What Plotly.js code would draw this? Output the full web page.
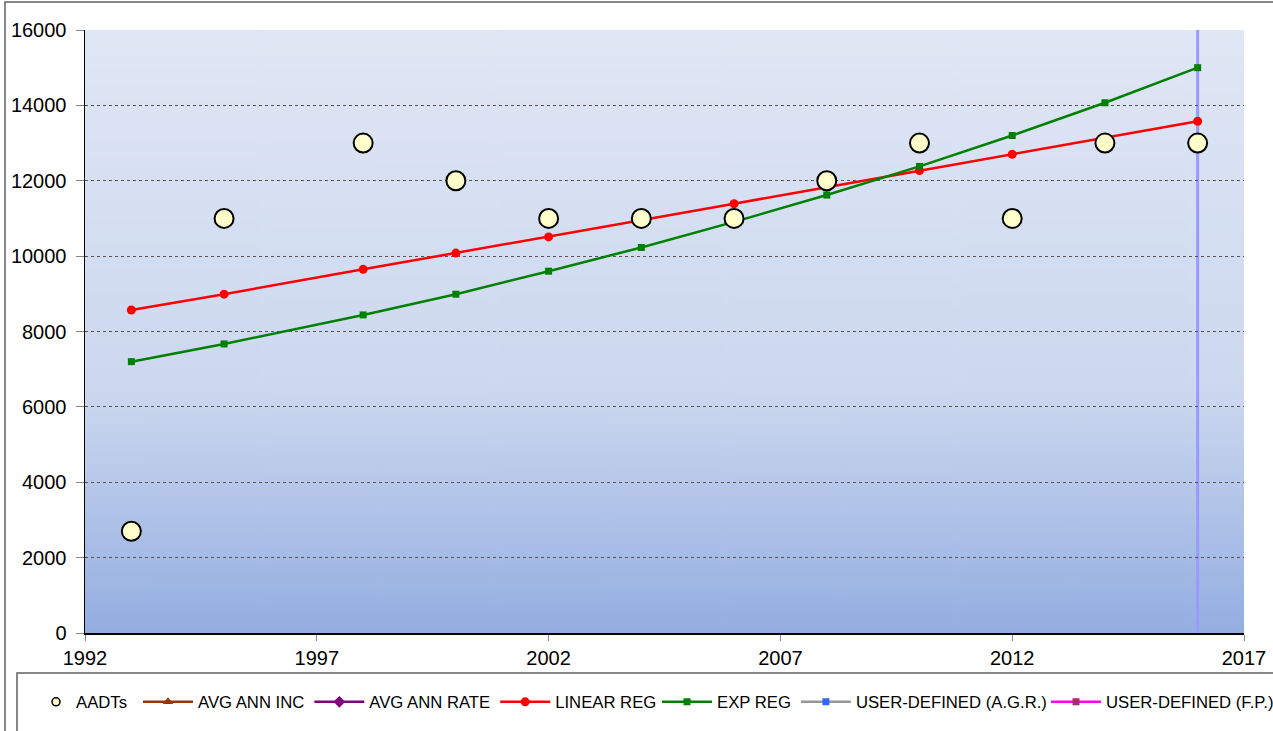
<!DOCTYPE html>
<html>
<head>
<meta charset="utf-8">
<script src="https://cdn.plot.ly/plotly-3.0.1.min.js"></script>
<style>
html,body{margin:0;padding:0;background:#fff;}
#chart{width:1273px;height:731px;}
</style>
</head>
<body>
<div id="chart"></div>
<script>
// ---- data ----
const years = [1993, 1995, 1998, 2000, 2002, 2004, 2006, 2008, 2010, 2012, 2014, 2016];
const aadts = [2700, 11000, 13000, 12000, 11000, 11000, 11000, 12000, 13000, 11000, 13000, 13000];
const linearReg = [8570, 8990, 9650, 10080, 10510, 10960, 11390, 11830, 12270, 12700, 13140, 13580];
const expReg = [7200, 7670, 8440, 8990, 9600, 10230, 10910, 11620, 12380, 13200, 14070, 15000];
const cutoffYear = 2016;
const yMax = 16000;
const xTicks = [1992, 1997, 2002, 2007, 2012, 2017];
const seriesNames = ["AADTs", "AVG ANN INC", "AVG ANN RATE", "LINEAR REG", "EXP REG", "USER-DEFINED (A.G.R.)", "USER-DEFINED (F.P.)"];

// gradient background image
const cv = document.createElement('canvas');
cv.width = 10; cv.height = 300;
const ctx = cv.getContext('2d');
const g = ctx.createLinearGradient(0, 0, 0, 300);
g.addColorStop(0, '#e0e7f5');
g.addColorStop(0.6, '#ccd8ef');
g.addColorStop(1, '#94aee1');
ctx.fillStyle = g; ctx.fillRect(0, 0, 10, 300);
const bgUrl = cv.toDataURL();

const font = {family: 'Liberation Sans, Arial, sans-serif', color: '#000'};

const traces = [
  {name: seriesNames[0], legend: 'legend', x: [null], y: [null], mode: 'markers', type: 'scatter',
   marker: {symbol: 'circle', size: 8, color: '#ffffcc', line: {color: '#000', width: 1.5}}},
  {name: seriesNames[1], legend: 'legend2', x: [null], y: [null], mode: 'lines+markers', type: 'scatter',
   line: {color: '#993300', width: 2.5}, marker: {symbol: 'triangle-up', size: 9, color: '#993300'}},
  {name: seriesNames[2], legend: 'legend2', x: [null], y: [null], mode: 'lines+markers', type: 'scatter',
   line: {color: '#800080', width: 2.5}, marker: {symbol: 'diamond', size: 9, color: '#800080'}},
  {name: seriesNames[3], legend: 'legend2', x: years, y: linearReg, mode: 'lines+markers', type: 'scatter',
   line: {color: '#ff0000', width: 2.5}, marker: {symbol: 'circle', size: 9, color: '#ff0000'}},
  {name: seriesNames[4], legend: 'legend3', x: years, y: expReg, mode: 'lines+markers', type: 'scatter',
   line: {color: '#008000', width: 2.5}, marker: {symbol: 'square', size: 7, color: '#008000'}},
  {name: seriesNames[5], legend: 'legend3', x: [null], y: [null], mode: 'lines+markers', type: 'scatter',
   line: {color: '#969696', width: 2.5}, marker: {symbol: 'square', size: 7, color: '#3366ff'}},
  {name: seriesNames[6], legend: 'legend4', x: [null], y: [null], mode: 'lines+markers', type: 'scatter',
   line: {color: '#ff00ff', width: 2.5}, marker: {symbol: 'square', size: 7, color: '#993366'}},
  {name: seriesNames[0], x: years, y: aadts, mode: 'markers', type: 'scatter', showlegend: false,
   marker: {symbol: 'circle', size: 19, color: '#ffffcc', line: {color: '#000', width: 2}}}
];

// pixel helpers for frame shapes (paper coords)
const W = 1273, H = 731;
const L = 85, R = 1244, T = 30, B = 633;
const px = v => (v - L) / (R - L);
const py = v => (B - v) / (B - T);
const cx = v => v / W;
const cy = v => 1 - v / H;

const legendBase = (x, iw) => ({orientation: 'h', xref: 'container', yref: 'container',
  x: cx(x), y: cy(702), yanchor: 'middle', xanchor: 'left', itemwidth: iw,
  font: Object.assign({size: 16.7}, font), bgcolor: 'rgba(0,0,0,0)', borderwidth: 0,
  traceorder: 'normal', itemclick: false});

const layout = {
  width: W, height: H,
  margin: {l: L, r: W - R, t: T, b: H - B, autoexpand: false},
  paper_bgcolor: '#ffffff',
  plot_bgcolor: 'rgba(0,0,0,0)',
  font: Object.assign({size: 20}, font),
  showlegend: true,
  legend: legendBase(36, 30),
  legend2: legendBase(138, 50),
  legend3: legendBase(657, 50),
  legend4: legendBase(1046, 50),
  xaxis: {range: [1992, 2017], tickvals: xTicks, ticktext: xTicks.map(String),
          showgrid: false, zeroline: false, showline: true, linecolor: '#000', linewidth: 1.5,
          ticks: 'outside', ticklen: 6, tickcolor: '#888', tickfont: Object.assign({size: 20}, font)},
  yaxis: {range: [0, yMax], dtick: 2000, tick0: 0, showgrid: true, gridcolor: '#555', griddash: 'dot', gridwidth: 1,
          zeroline: false, showline: true, linecolor: '#000', linewidth: 1.5,
          ticks: 'outside', ticklen: 8, tickcolor: '#888', tickformat: 'd', ticklabelstandoff: 5,
          tickfont: Object.assign({size: 20}, font)},
  images: [{source: bgUrl, xref: 'paper', yref: 'paper', x: 0, y: 1, sizex: 1, sizey: 1,
            sizing: 'stretch', layer: 'below', xanchor: 'left', yanchor: 'top'}],
  shapes: [
    {type: 'line', xref: 'x', yref: 'paper', x0: cutoffYear, x1: cutoffYear, y0: 0, y1: 1,
     line: {color: '#9999ff', width: 3}, layer: 'below'},
    {type: 'rect', xref: 'paper', yref: 'paper', x0: px(5), x1: px(1290), y0: py(2), y1: py(760),
     line: {color: '#606060', width: 1.5}, fillcolor: 'rgba(0,0,0,0)'},
    {type: 'rect', xref: 'paper', yref: 'paper', x0: px(17), x1: px(1290), y0: py(673), y1: py(760),
     line: {color: '#606060', width: 1.5}, fillcolor: 'rgba(0,0,0,0)'}
  ]
};

Plotly.newPlot('chart', traces, layout, {displayModeBar: false, staticPlot: true});
</script>
</body>
</html>
